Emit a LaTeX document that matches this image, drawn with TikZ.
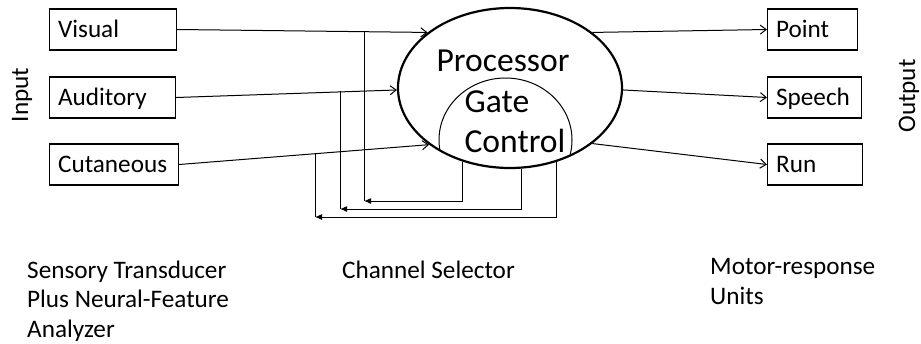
\documentclass[tikz,border=0pt]{standalone}
\usepackage{fontspec}
\setmainfont{Carlito}
\usetikzlibrary{arrows.meta,shapes.geometric,calc}
\begin{document}
\begin{tikzpicture}[x=1pt,y=-1pt,
  every node/.style={font=\fontsize{25.2}{29.3}\selectfont, text=black},
  unitbox/.style={draw, line width=1.2pt, minimum height=41pt, inner xsep=8.5pt, inner ysep=0pt,
    text height=16.2pt, text depth=0pt, align=left, anchor=west},
  link/.style={line width=1pt, -{Straight Barb[length=6pt,width=9pt]}},
  fb/.style={line width=1pt, -{Latex[length=7pt,width=6pt]}},
  plainline/.style={line width=1pt},
  bigtext/.style={font=\fontsize{33.6}{40}\selectfont, anchor=base, inner sep=0pt},
  label/.style={anchor=base west, align=left, inner sep=0pt}
]
\useasboundingbox (0,0) rectangle (921,343);

% input / output boxes
\node[unitbox, text width=110pt] (vis) at (49,29.5) {Visual};
\node[unitbox, text width=109pt] (aud) at (49,97.5) {Auditory};
\node[unitbox, text width=112pt] (cut) at (49,164.5) {Cutaneous};
\node[unitbox, text width=73pt] (point) at (767,29.5) {Point};
\node[unitbox, text width=77pt] (speech) at (767,97.5) {Speech};
\node[unitbox, text width=78pt] (run) at (767,164.5) {Run};

% processor
\node[ellipse, draw, line width=2.2pt, minimum width=224pt, minimum height=160pt] (proc) at (510,88) {};
\begin{scope}
  \clip (510,88) ellipse [x radius=111, y radius=79];
  \draw[line width=1pt] (505.5,140) ellipse [x radius=66.5, y radius=62];
\end{scope}
\node[bigtext] (ptext) at (503,71) {Processor};
\node[bigtext] (gtext) at (497,112) {Gate};
\node[bigtext] (ctext) at (515,152) {Control};

% inputs and outputs
\draw[link] (vis.east) -- (proc.146);
\draw[link] (aud.east) -- (proc.181);
\draw[link] (cut.east) -- (proc.215);
\draw[link] (proc.34) -- (point.west);
\draw[link] (proc.359.5) -- (speech.west);
\draw[link] (proc.-34.5) -- (run.west);

% feedback loops
\coordinate (f1) at (proc.237.1);
\coordinate (c1) at (364,201);
\coordinate (j1) at (364,32);
\coordinate (f2) at (proc.278.6);
\coordinate (c2) at (340,209);
\coordinate (j2) at (340,91.3);
\coordinate (f3) at (proc.302.2);
\coordinate (c3) at (315,217);
\coordinate (j3) at (315,153.6);
\draw[fb] (f1) |- (c1);
\draw[plainline] (c1) -- (j1);
\draw[fb] (f2) |- (c2);
\draw[plainline] (c2) -- (j2);
\draw[fb] (f3) |- (c3);
\draw[plainline] (c3) -- (j3);

% side labels
\node[rotate=90] (input) at (22,95) {Input};
\node[rotate=90] (output) at (909,96) {Output};

% bottom captions (anchor at the baseline of the last line)
\node[label] (sens) at (27,337) {Sensory Transducer\\Plus Neural-Feature\\Analyzer};
\node[label] (chan) at (342,278) {Channel Selector};
\node[label] (motor) at (710,304) {Motor-response\\Units};
\end{tikzpicture}
\end{document}
